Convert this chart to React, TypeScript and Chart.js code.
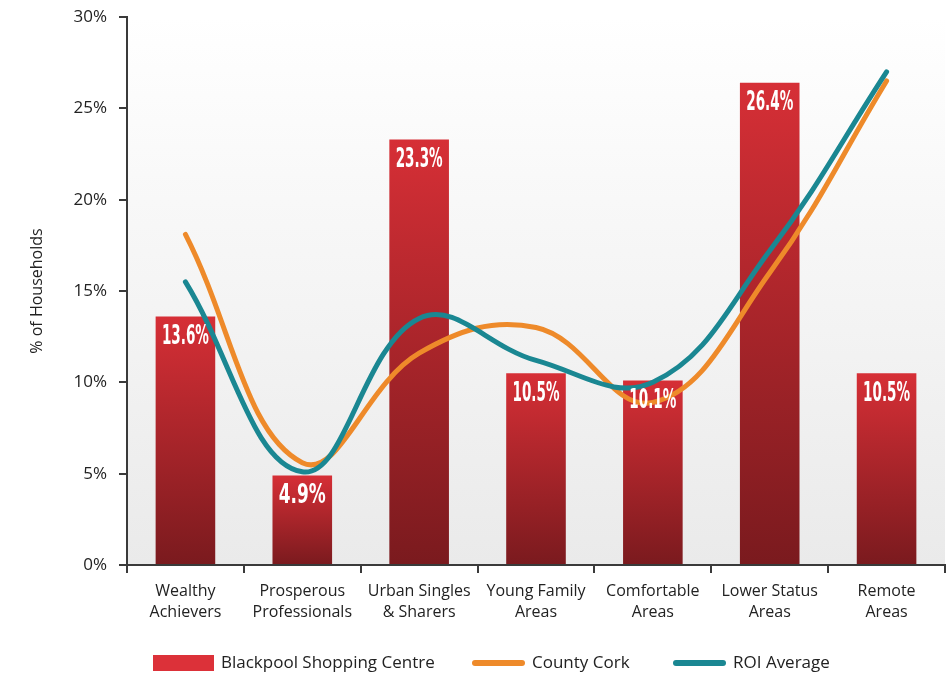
import React, { useEffect, useRef } from "react";
import { Chart, registerables } from "chart.js";

Chart.register(...registerables);

const categories: string[][] = [
  ["Wealthy", "Achievers"],
  ["Prosperous", "Professionals"],
  ["Urban Singles", "& Sharers"],
  ["Young Family", "Areas"],
  ["Comfortable", "Areas"],
  ["Lower Status", "Areas"],
  ["Remote", "Areas"],
];
const blackpool: number[] = [13.6, 4.9, 23.3, 10.5, 10.1, 26.4, 10.5];
const countyCork: number[] = [18.1, 5.6, 11.6, 13.0, 8.9, 16.0, 26.5];
const roiAverage: number[] = [15.5, 5.1, 13.5, 11.2, 10.0, 17.2, 27.0];
const yTicks: number[] = [0, 5, 10, 15, 20, 25, 30];

const FONT = "'Open Sans', Lato, sans-serif";
const RED = "#dc3139";
const ORANGE = "#ee8a2a";
const TEAL = "#1a8792";

const bgPlugin = {
  id: "bgGrad",
  beforeDraw(chart: any) {
    const { ctx, chartArea } = chart;
    if (!chartArea) return;
    const g = ctx.createLinearGradient(0, chartArea.top, 0, chartArea.bottom);
    g.addColorStop(0, "#ffffff");
    g.addColorStop(1, "#eaeaea");
    ctx.save();
    ctx.fillStyle = g;
    ctx.fillRect(chartArea.left, chartArea.top, chartArea.right - chartArea.left, chartArea.bottom - chartArea.top);
    ctx.restore();
  },
};

const labelPlugin = {
  id: "barLabels",
  afterDatasetsDraw(chart: any) {
    const { ctx } = chart;
    const meta = chart.getDatasetMeta(0);
    ctx.save();
    ctx.fillStyle = "#ffffff";
    ctx.textAlign = "center";
    ctx.textBaseline = "top";
    ctx.font = "bold 27px 'DejaVu Sans Condensed', 'Liberation Sans', sans-serif";
    meta.data.forEach((bar: any, i: number) => {
      const txt = blackpool[i].toFixed(1) + "%";
      ctx.save();
      ctx.translate(bar.x, bar.y + 7);
      const w = ctx.measureText(txt).width;
      ctx.scale(47 / w, 1);
      ctx.fillText(txt, 0, 0);
      ctx.restore();
    });
    ctx.restore();
  },
};

const legendPlugin = {
  id: "customLegend",
  afterDraw(chart: any) {
    const { ctx } = chart;
    const y = 663;
    ctx.save();
    ctx.font = "17px " + FONT;
    ctx.textBaseline = "middle";
    ctx.textAlign = "left";
    ctx.fillStyle = RED;
    ctx.fillRect(153, y - 8, 61, 16);
    ctx.fillStyle = "#222222";
    ctx.fillText("Blackpool Shopping Centre", 221, y);
    ctx.lineCap = "round";
    ctx.lineWidth = 6;
    ctx.strokeStyle = ORANGE;
    ctx.beginPath();
    ctx.moveTo(475, y);
    ctx.lineTo(522, y);
    ctx.stroke();
    ctx.fillText("County Cork", 532, y);
    ctx.strokeStyle = TEAL;
    ctx.beginPath();
    ctx.moveTo(676, y);
    ctx.lineTo(723, y);
    ctx.stroke();
    ctx.fillText("ROI Average", 733, y);
    ctx.restore();
  },
};

export default function App() {
  const ref = useRef<HTMLCanvasElement>(null);
  useEffect(() => {
    if (!ref.current) return;
    const chart = new Chart(ref.current, {
      type: "bar",
      data: {
        labels: categories,
        datasets: [
          {
            type: "bar",
            label: "Blackpool Shopping Centre",
            data: blackpool,
            order: 3,
            categoryPercentage: 1,
            barPercentage: 0.51,
            backgroundColor: (c: any) => {
              const chart = c.chart;
              const ys = chart.scales?.y;
              if (!ys || c.parsed == null) return RED;
              const top = ys.getPixelForValue(c.parsed.y);
              const bottom = ys.getPixelForValue(0);
              if (!isFinite(top) || !isFinite(bottom) || top === bottom) return RED;
              const g = chart.ctx.createLinearGradient(0, top, 0, bottom);
              g.addColorStop(0, "#d62f36");
              g.addColorStop(1, "#7a1a1e");
              return g;
            },
          } as any,
          {
            type: "line",
            label: "ROI Average",
            data: roiAverage,
            order: 1,
            borderColor: TEAL,
            borderWidth: 5,
            borderCapStyle: "round",
            pointRadius: 0,
            tension: 0.4,
            fill: false,
          } as any,
          {
            type: "line",
            label: "County Cork",
            data: countyCork,
            order: 2,
            borderColor: ORANGE,
            borderWidth: 5,
            borderCapStyle: "round",
            pointRadius: 0,
            tension: 0.4,
            fill: false,
          } as any,
        ],
      },
      options: {
        animation: false,
        responsive: true,
        maintainAspectRatio: false,
        layout: { padding: { top: 17, right: 5, left: 0, bottom: 0 } },
        plugins: { legend: { display: false }, tooltip: { enabled: false } },
        scales: {
          x: {
            grid: { display: true, drawOnChartArea: false, drawTicks: true, tickLength: 8, color: "#3a3a3a", lineWidth: 2, offset: true },
            border: { display: true, color: "#3a3a3a", width: 2 },
            ticks: { color: "#222222", font: { family: FONT, size: 16, lineHeight: 1.3 }, maxRotation: 0, padding: 8 },
            afterFit: (s: any) => { s.height = 111; s.paddingLeft = 0; s.paddingRight = 0; },
          },
          y: {
            min: 0,
            max: 30,
            afterBuildTicks: (s: any) => { s.ticks = yTicks.map((v) => ({ value: v })); },
            grid: { display: true, drawOnChartArea: false, drawTicks: true, tickLength: 8, color: "#3a3a3a", lineWidth: 2 },
            border: { display: true, color: "#3a3a3a", width: 2 },
            ticks: { color: "#222222", font: { family: FONT, size: 17 }, padding: 12, callback: (v: any) => v + "%" },
            title: { display: true, text: "% of Households", color: "#222222", font: { family: FONT, size: 16 }, padding: { top: 28, bottom: 0 } },
            afterFit: (s: any) => { s.width = 127; s.paddingTop = 0; s.paddingBottom = 0; },
          },
        },
      },
      plugins: [bgPlugin, labelPlugin, legendPlugin],
    });
    return () => chart.destroy();
  }, []);
  return (
    <div style={{ position: "absolute", left: 0, top: 0, width: 950, height: 676 }}>
      <canvas ref={ref} />
    </div>
  );
}
